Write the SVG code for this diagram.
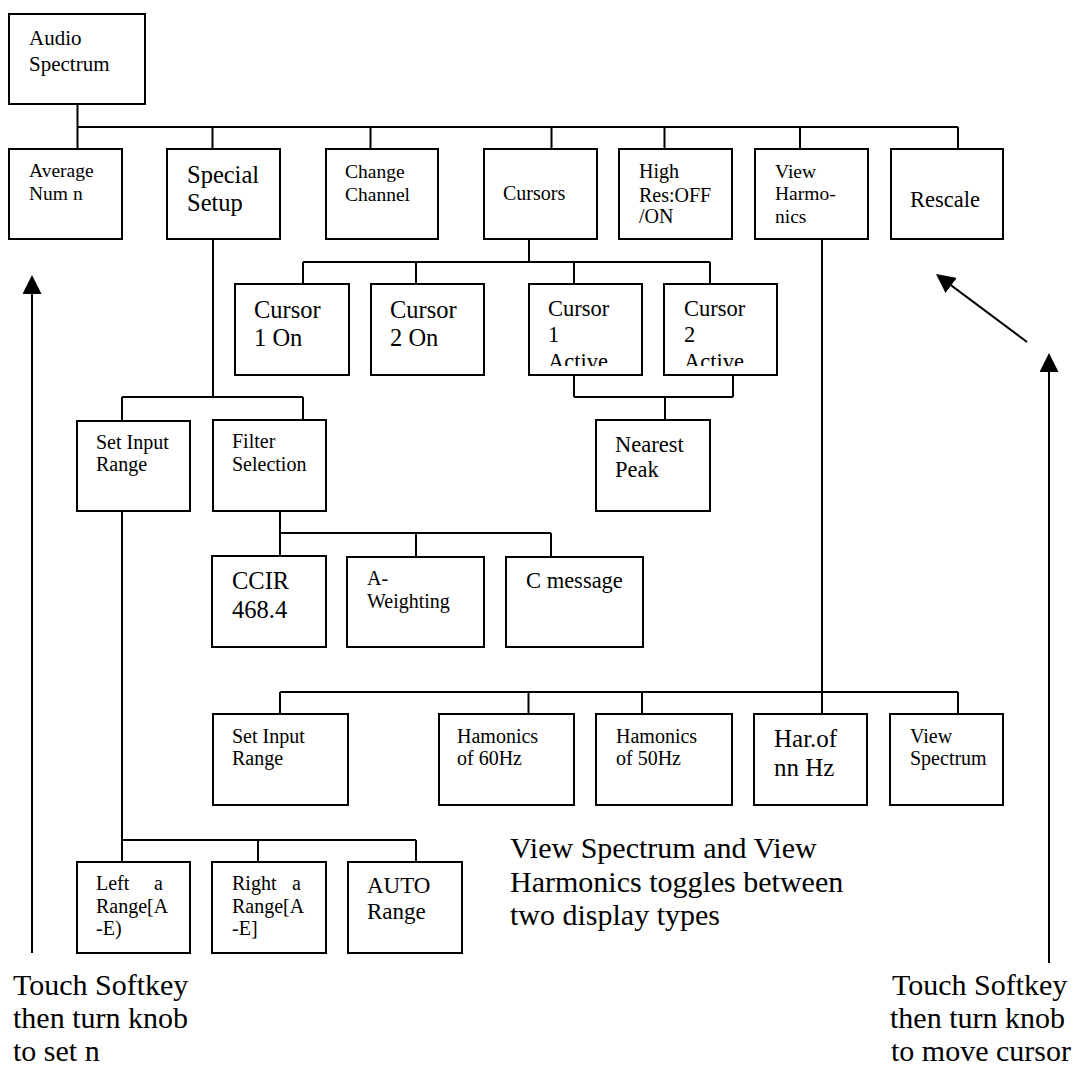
<svg xmlns="http://www.w3.org/2000/svg" width="1075" height="1068" viewBox="0 0 1075 1068">
<style>
  .box { fill: #fff; stroke: #000; stroke-width: 2; }
  .ln { fill: none; stroke: #000; stroke-width: 2; }
  text { font-family: "Liberation Serif", "Times New Roman", serif; fill: #000; }
  .s19 { font-size: 19.5px; }
  .s20 { font-size: 20px; }
  .s21 { font-size: 21px; }
  .s22 { font-size: 22.5px; }
  .s23 { font-size: 23px; }
  .s24 { font-size: 24.5px; }
  .s25 { font-size: 25px; }
  .s30 { font-size: 30px; }
</style>
<defs>
  <marker id="ah" viewBox="0 0 19 19" refX="0" refY="9.5" markerWidth="19" markerHeight="19" markerUnits="userSpaceOnUse" orient="auto">
    <path d="M0,0 L19,9.5 L0,19 z" fill="#000"/>
  </marker>
  <clipPath id="clipA"><rect x="529" y="284" width="113" height="82"/></clipPath>
  <clipPath id="clipB"><rect x="664" y="284" width="113" height="82"/></clipPath>
</defs>
<rect width="1075" height="1068" fill="#fff"/>

<g id="connectors">
  <path class="ln" d="M77.5,104 V127 M77.5,127 H958 M77.5,127 V149 M212.5,127 V149 M370.5,127 V149 M551.5,127 V149 M664.5,127 V149 M800,127 V149 M958,127 V149"/>
  <path class="ln" d="M529,239 V262 M303,262 H710 M303,262 V284 M416,262 V284 M574,262 V284 M710,262 V284"/>
  <path class="ln" d="M574,375 V397 M733,375 V397 M574,397 H733 M665,397 V420"/>
  <path class="ln" d="M213,239 V397 M122,397 H303 M122,397 V421 M303,397 V420"/>
  <path class="ln" d="M280,511 V533 M280,533 H551 M280,533 V556 M416,533 V557 M551,533 V557"/>
  <path class="ln" d="M122,500 V840 M122,840 H416 M122,840 V862 M258,840 V862 M416,840 V862"/>
  <path class="ln" d="M822,239 V714 M280,692 H958 M280,692 V714 M528.5,692 V714 M642,692 V714 M958,692 V714"/>
  <line class="ln" x1="32" y1="953" x2="32" y2="294" marker-end="url(#ah)"/>
  <line class="ln" x1="1049" y1="963" x2="1049" y2="372" marker-end="url(#ah)"/>
  <line class="ln" x1="1027" y1="342" x2="951.2" y2="285.4" marker-end="url(#ah)"/>
</g>

<g id="audio-spectrum"><rect class="box" x="9" y="14" width="136" height="90"/><text class="s21" x="29" y="45">Audio</text><text class="s21" x="29" y="71">Spectrum</text></g>

<g id="average-num"><rect class="box" x="9" y="149" width="113" height="90"/><text class="s19" x="29" y="177">Average</text><text class="s19" x="29" y="200">Num n</text></g>
<g id="special-setup"><rect class="box" x="167" y="149" width="113" height="90"/><text class="s24" x="187" y="183">Special</text><text class="s24" x="187" y="211">Setup</text></g>
<g id="change-channel"><rect class="box" x="326" y="149" width="112" height="90"/><text class="s19" x="345" y="178">Change</text><text class="s19" x="345" y="201">Channel</text></g>
<g id="cursors"><rect class="box" x="484" y="149" width="113" height="90"/><text class="s20" x="503" y="200">Cursors</text></g>
<g id="high-res"><rect class="box" x="619" y="149" width="113" height="90"/><text class="s20" x="639" y="178">High</text><text class="s20" x="639" y="202">Res:OFF</text><text class="s20" x="639" y="223">/ON</text></g>
<g id="view-harmonics"><rect class="box" x="755" y="149" width="113" height="90"/><text class="s19" x="775" y="178">View</text><text class="s19" x="775" y="200">Harmo-</text><text class="s19" x="775" y="223">nics</text></g>
<g id="rescale"><rect class="box" x="891" y="149" width="112" height="90"/><text class="s22" x="910" y="207">Rescale</text></g>

<g id="cursor1-on"><rect class="box" x="235" y="284" width="114" height="91"/><text class="s24" x="254" y="318">Cursor</text><text class="s24" x="254" y="346">1 On</text></g>
<g id="cursor2-on"><rect class="box" x="371" y="284" width="113" height="91"/><text class="s24" x="390" y="318">Cursor</text><text class="s24" x="390" y="346">2 On</text></g>
<g id="cursor1-active"><rect class="box" x="529" y="284" width="113" height="91"/><g clip-path="url(#clipA)"><text class="s22" x="548" y="316">Cursor</text><text class="s22" x="548" y="342">1</text><text class="s22" x="548" y="369">Active</text></g></g>
<g id="cursor2-active"><rect class="box" x="664" y="284" width="113" height="91"/><g clip-path="url(#clipB)"><text class="s22" x="684" y="316">Cursor</text><text class="s22" x="684" y="342">2</text><text class="s22" x="684" y="369">Active</text></g></g>
<g id="nearest-peak"><rect class="box" x="596" y="420" width="114" height="91"/><text class="s22" x="615" y="452">Nearest</text><text class="s22" x="615" y="477">Peak</text></g>

<g id="set-input-range-1"><rect class="box" x="77" y="421" width="113" height="90"/><text class="s20" x="96" y="449">Set Input</text><text class="s20" x="96" y="471">Range</text></g>
<g id="filter-selection"><rect class="box" x="213" y="420" width="113" height="91"/><text class="s20" x="232" y="448">Filter</text><text class="s20" x="232" y="471">Selection</text></g>
<g id="ccir"><rect class="box" x="212" y="556" width="114" height="91"/><text class="s24" x="232" y="589">CCIR</text><text class="s24" x="232" y="618">468.4</text></g>
<g id="a-weighting"><rect class="box" x="347" y="557" width="137" height="90"/><text class="s20" x="367" y="585">A-</text><text class="s20" x="367" y="608">Weighting</text></g>
<g id="c-message"><rect class="box" x="506" y="557" width="137" height="90"/><text class="s22" x="526" y="588">C message</text></g>

<g id="left-range"><rect class="box" x="77" y="862" width="113" height="91"/><text class="s20" x="96" y="890">Left</text><text class="s20" x="154" y="890">a</text><text class="s20" x="96" y="913">Range[A</text><text class="s20" x="96" y="935">-E)</text></g>
<g id="right-range"><rect class="box" x="212" y="862" width="114" height="91"/><text class="s20" x="232" y="890">Right</text><text class="s20" x="292" y="890">a</text><text class="s20" x="232" y="913">Range[A</text><text class="s20" x="232" y="935">-E]</text></g>
<g id="auto-range"><rect class="box" x="348" y="862" width="114" height="91"/><text class="s23" x="367" y="893">AUTO</text><text class="s23" x="367" y="919">Range</text></g>

<g id="set-input-range-2"><rect class="box" x="213" y="714" width="135" height="91"/><text class="s20" x="232" y="743">Set Input</text><text class="s20" x="232" y="765">Range</text></g>
<g id="harmonics-60"><rect class="box" x="439" y="714" width="135" height="91"/><text class="s20" x="457" y="743">Hamonics</text><text class="s20" x="457" y="765">of 60Hz</text></g>
<g id="harmonics-50"><rect class="box" x="596" y="714" width="136" height="91"/><text class="s20" x="616" y="743">Hamonics</text><text class="s20" x="616" y="765">of 50Hz</text></g>
<g id="har-nn"><rect class="box" x="754" y="714" width="113" height="91"/><text class="s25" x="774" y="747">Har.of</text><text class="s25" x="774" y="776">nn Hz</text></g>
<g id="view-spectrum"><rect class="box" x="890" y="714" width="113" height="91"/><text class="s20" x="910" y="743">View</text><text class="s20" x="910" y="765">Spectrum</text></g>

<g id="notes">
  <text class="s30" x="510" y="858">View Spectrum and View</text>
  <text class="s30" x="510" y="892">Harmonics toggles between</text>
  <text class="s30" x="510" y="925">two display types</text>
  <text class="s30" x="13" y="995">Touch Softkey</text>
  <text class="s30" x="13" y="1028">then turn knob</text>
  <text class="s30" x="13" y="1061">to set n</text>
  <text class="s30" x="892" y="995">Touch Softkey</text>
  <text class="s30" x="890" y="1028">then turn knob</text>
  <text class="s30" x="891" y="1061">to move cursor</text>
</g>
</svg>
